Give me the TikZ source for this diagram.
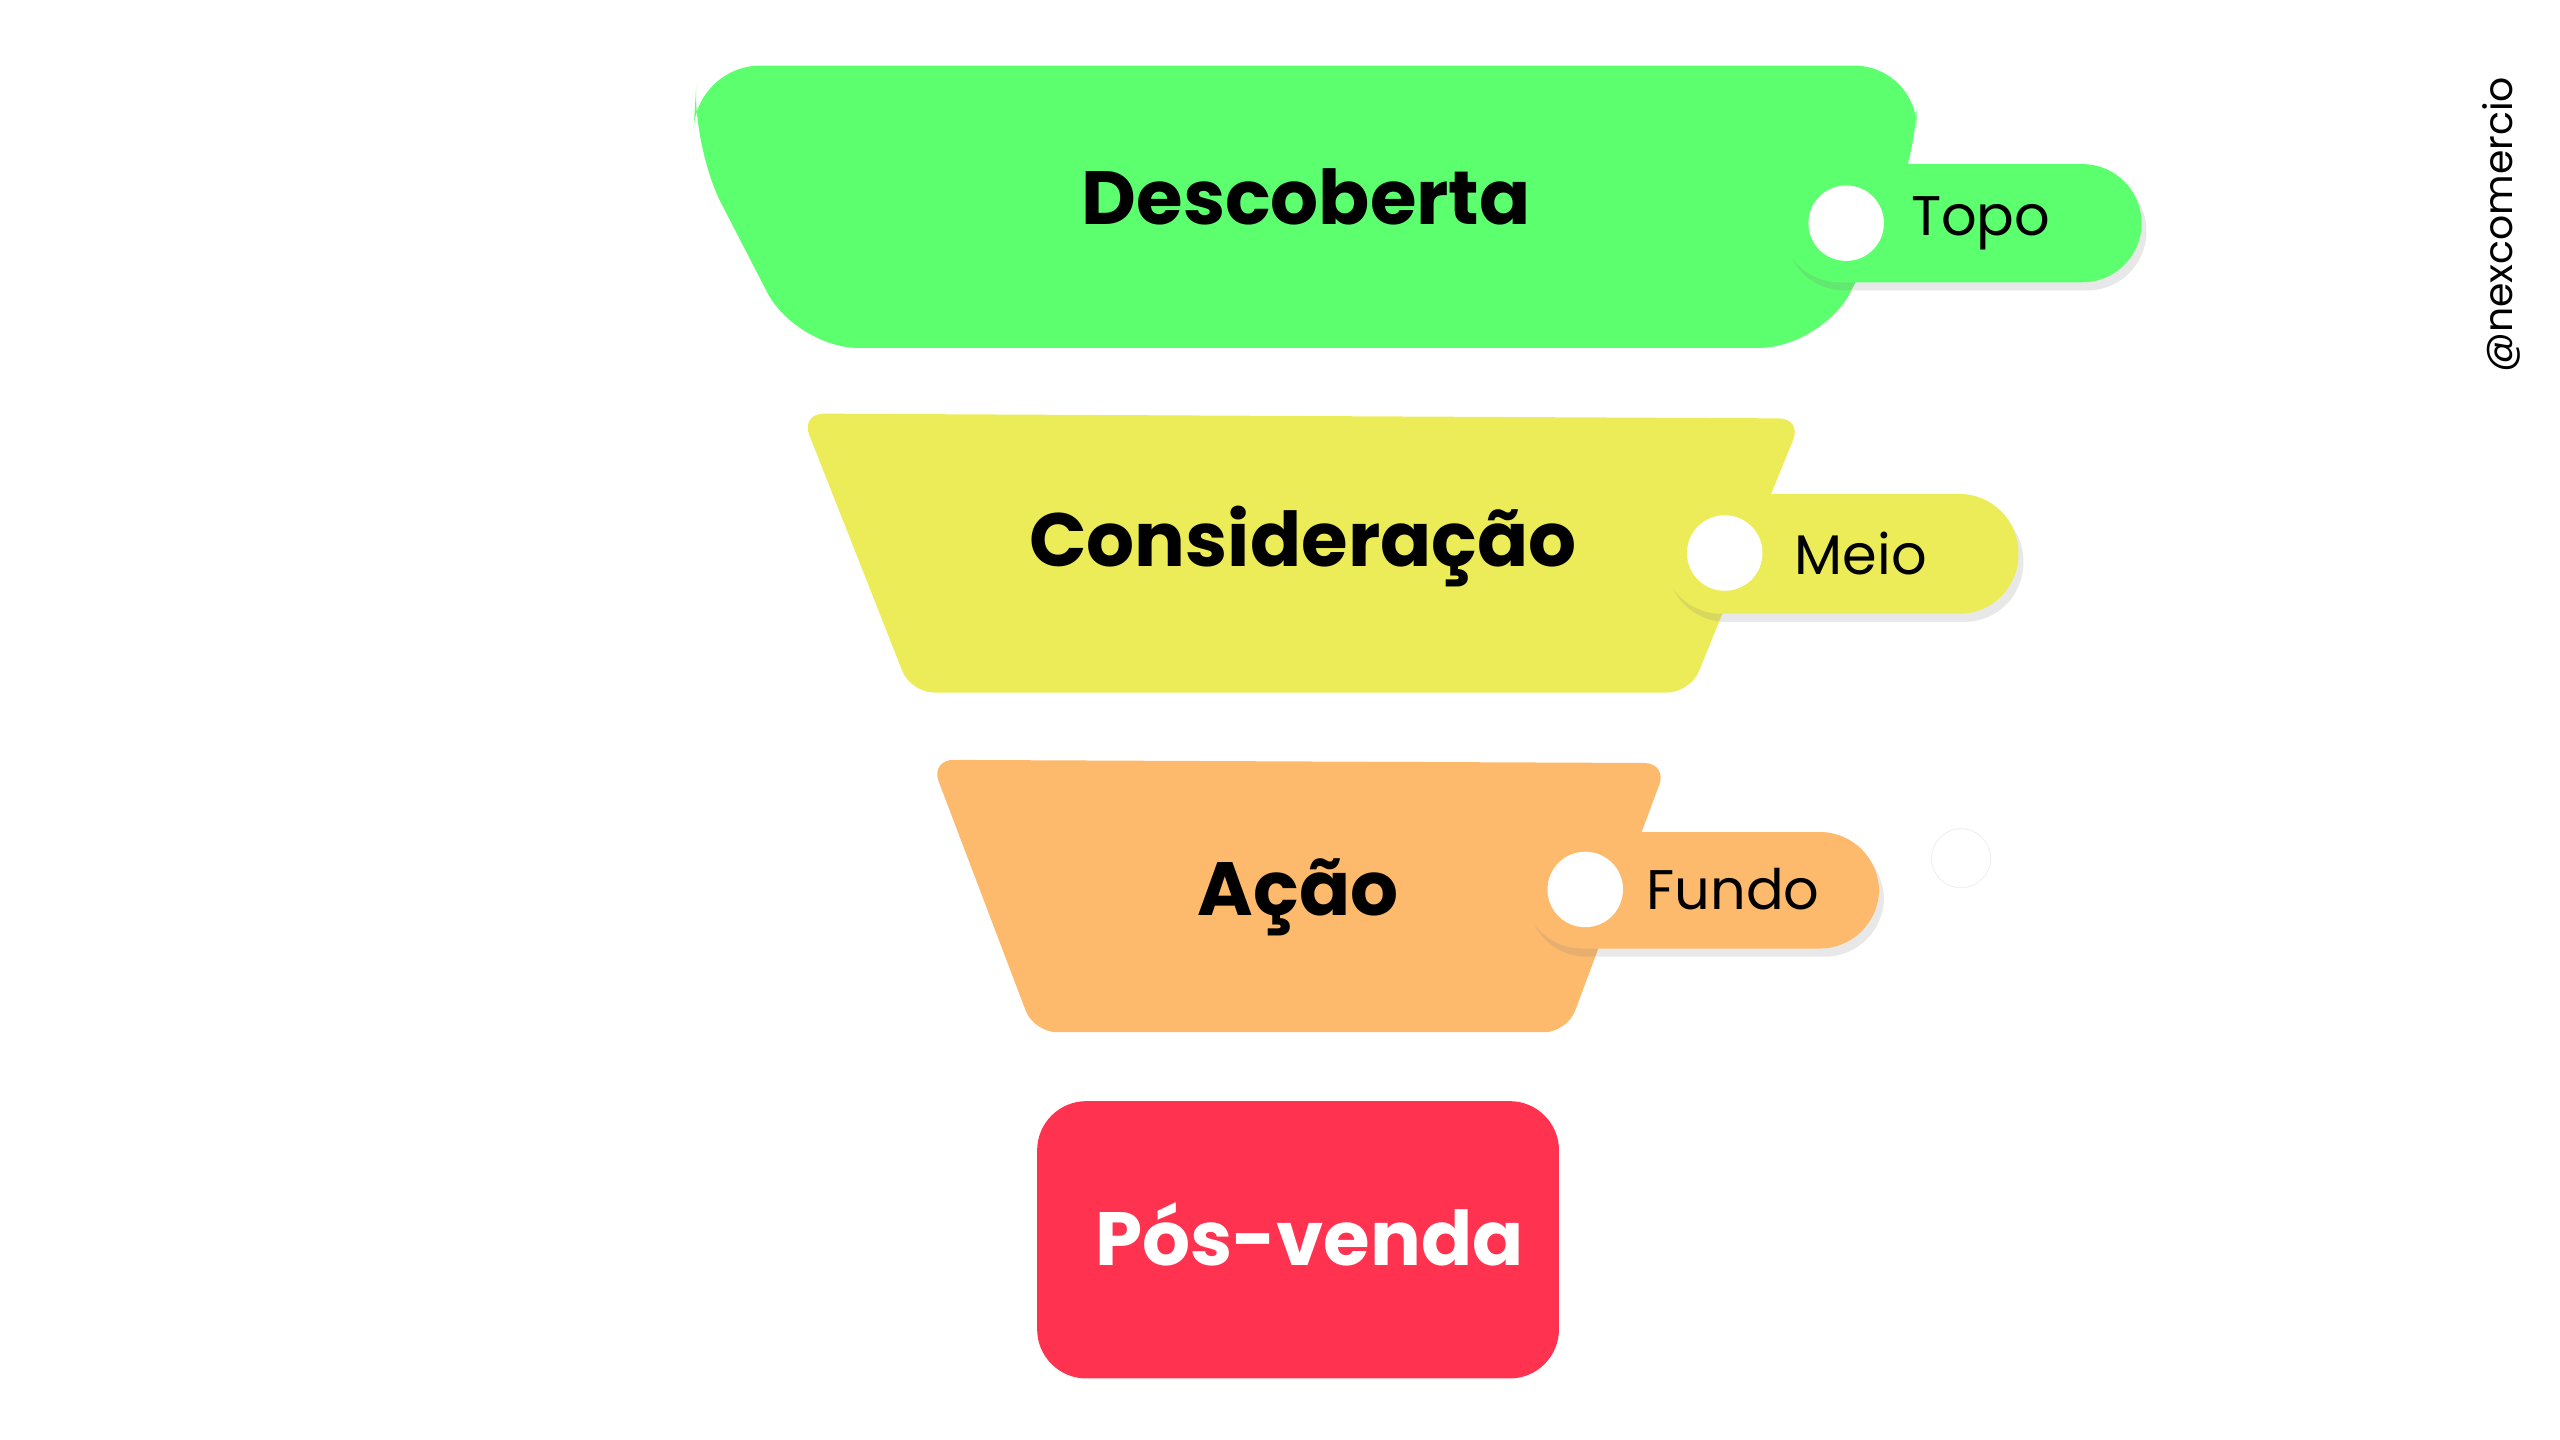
\documentclass[tikz,border=0pt]{standalone}
\usepackage{fontspec}
\setmainfont{Poppins}
\usetikzlibrary{shadows}
\definecolor{cg}{HTML}{5CFF6E}
\definecolor{cy}{HTML}{ECEC58}
\definecolor{co}{HTML}{FDBA6C}
\definecolor{cr}{HTML}{FF3350}
\tikzset{
  stage/.style={rounded corners=14pt},
  pill/.style={rounded corners=36pt, drop shadow={shadow xshift=3pt,shadow yshift=-5pt,opacity=0.18}},
  dot/.style={circle, fill=white, minimum size=46pt, inner sep=0pt},
  big/.style={font=\fontsize{46}{50}\selectfont\bfseries},
  small/.style={font=\fontsize{34}{38}\selectfont, anchor=center}
}
\begin{document}
\begin{tikzpicture}[x=1pt,y=-1pt]
\useasboundingbox (0,0) rectangle (1560,877.5);
% green
\fill[cg, rounded corners=38pt] (425,40) -- (1168,40) -- (1168,100) -- (1110,212) -- (485,212) -- (422,90) -- cycle;
\node[big] (d) at (796,120) {Descoberta};
\fill[cg, pill] (1085,100) rectangle (1305,172);
\node[dot] (d1) at (1125,136) {};
\node[small] (t1) at (1207,136) {Topo};
% yellow
\fill[cy, stage] (488,252) -- (1098,255) -- (1030,422) -- (555,422) -- cycle;
\node[big] (c) at (794,333) {Consideração};
\fill[cy, pill] (1013,301) rectangle (1230,374);
\node[dot] (d2) at (1051,337) {};
\node[small] (t2) at (1134,337) {Meio};
% orange
\fill[co, stage] (567,463) -- (1016,465) -- (955,629) -- (630,629) -- cycle;
\node[big] (a) at (791,547) {Ação};
\fill[co, pill] (928,507) rectangle (1145,578);
\node[dot] (d3) at (966,542) {};
\node[small] (t3) at (1056,542) {Fundo};
% faint circle
\node[circle, draw=black!8, minimum size=36pt, inner sep=0pt] (fc) at (1195,523) {};
% red
\fill[cr, rounded corners=30pt] (632,671) rectangle (950,840);
\node[big, text=white] (p) at (798,752) {Pós-venda};
% watermark
\node[rotate=90, font=\fontsize{24}{28}\selectfont] (w) at (1524,137) {@nexcomercio};
\end{tikzpicture}
\end{document}
